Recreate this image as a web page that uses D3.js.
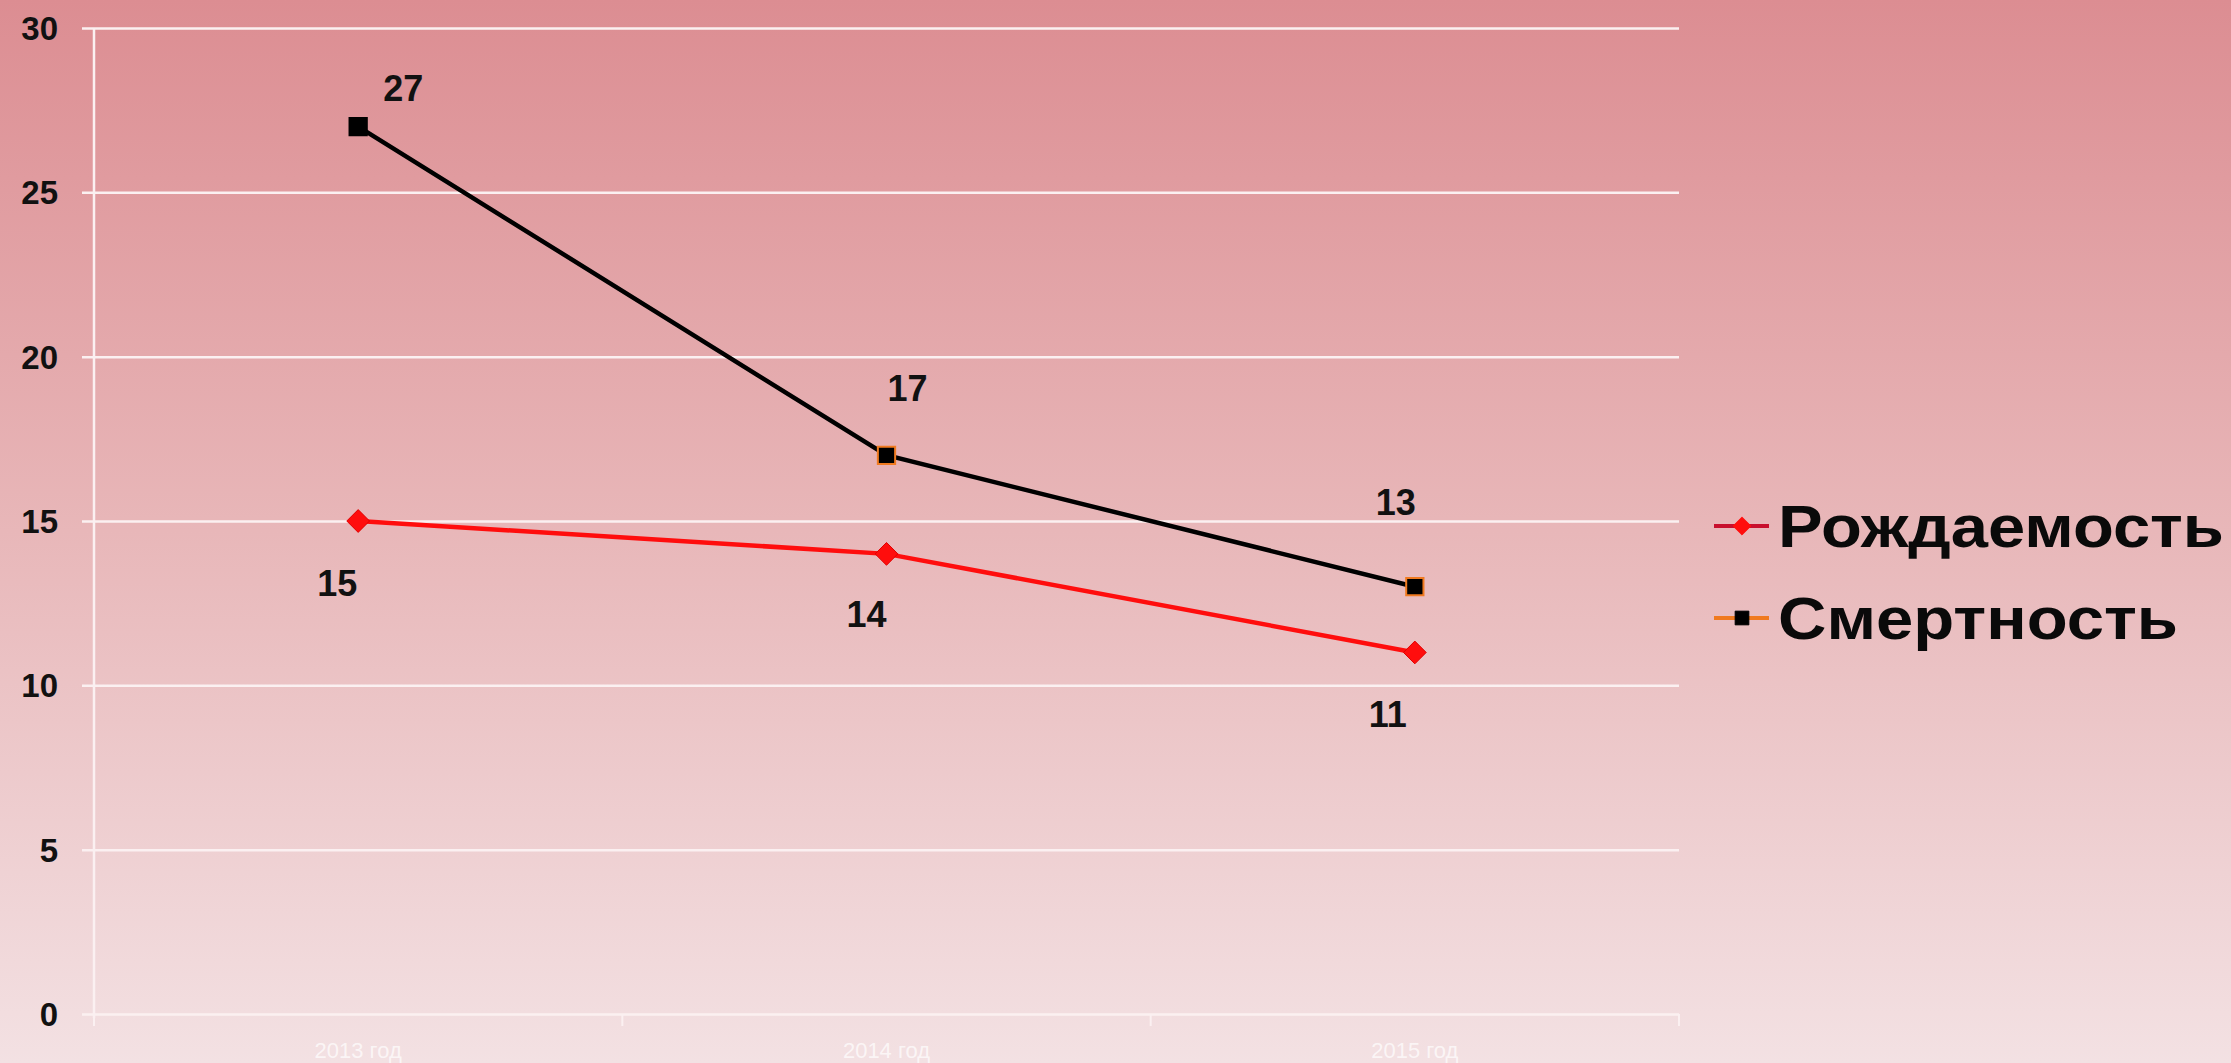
<!DOCTYPE html>
<html>
<head>
<meta charset="utf-8">
<script src="https://cdn.jsdelivr.net/npm/d3@7"></script>
<style>
    html, body { margin: 0; padding: 0; overflow: hidden; }
    body { width: 2231px; height: 1063px; }
</style>
</head>
<body>
<div class="container"></div>
<script>

var width = 2231;
var height = 1063;

var categories = ["2013 год", "2014 год", "2015 год"];
var birthValues = [15, 14, 11];
var deathValues = [27, 17, 13];
var seriesNames = ["Рождаемость", "Смертность"];
var yTicks = [0, 5, 10, 15, 20, 25, 30];

// label nudges in px (dx, dy from marker to text baseline)
var birthLabelOffset = [[-21, 75], [-20, 73], [-27, 75]];
var deathLabelOffset = [[45, -26], [21, -54], [-19, -72]];

var margin = { left: 94, right: 2231 - 1679, top: 28, bottom: 1063 - 1014 };

var svg = d3.select('.container')
    .append('svg')
    .attr('width', width)
    .attr('height', height)

// background gradient
var defs = svg.append('defs');
var grad = defs.append('linearGradient')
    .attr('id', 'bg')
    .attr('x1', 0).attr('y1', 0).attr('x2', 0).attr('y2', 1);
grad.append('stop').attr('offset', '0%').attr('stop-color', '#dc8d92');
grad.append('stop').attr('offset', '50%').attr('stop-color', '#e8b7b9');
grad.append('stop').attr('offset', '100%').attr('stop-color', '#f3e1e3');

svg.append('rect')
    .attr('width', width)
    .attr('height', height)
    .attr('fill', 'url(#bg)')

var x = d3.scaleBand()
    .domain(categories)
    .range([margin.left, width - margin.right])

var y = d3.scaleLinear()
    .domain([0, 30])
    .range([height - margin.bottom, margin.top])

function cx(d, i) { return x(categories[i]) + x.bandwidth() / 2; }

// gridlines
svg.append('g')
    .attr('class', 'grid')
    .attr('transform', 'translate(' + margin.left + ',0)')
    .call(d3.axisLeft(y).tickValues(yTicks).tickSize(-(width - margin.left - margin.right)).tickFormat(''))
    .call(function (g) { g.select('.domain').remove(); })
    .selectAll('line')
    .attr('stroke', '#fbf0f1')
    .attr('stroke-width', 2.5)
    .attr('x1', -12)

// y axis labels
svg.append('g')
    .selectAll('text')
    .data(yTicks)
    .enter().append('text')
    .attr('x', 58)
    .attr('y', function (d) { return y(d) + 12; })
    .attr('text-anchor', 'end')
    .attr('font-family', 'Liberation Sans, Arial, sans-serif')
    .attr('font-weight', 'bold')
    .attr('font-size', '33px')
    .attr('fill', '#111')
    .text(function (d) { return d; })

// vertical axis line
svg.append('line')
    .attr('x1', margin.left).attr('x2', margin.left)
    .attr('y1', y(30)).attr('y2', y(0) + 4)
    .attr('stroke', '#fbf0f1')
    .attr('stroke-width', 2.5)

// x axis ticks
var xEdges = categories.map(function (c) { return x(c); }).concat([x.range()[1]]);
svg.append('g')
    .selectAll('line')
    .data(xEdges)
    .enter().append('line')
    .attr('x1', function (d) { return d; })
    .attr('x2', function (d) { return d; })
    .attr('y1', y(0))
    .attr('y2', y(0) + 12)
    .attr('stroke', '#fbf0f1')
    .attr('stroke-width', 2)

// category labels
svg.append('g')
    .selectAll('text')
    .data(categories)
    .enter().append('text')
    .attr('x', function (d) { return x(d) + x.bandwidth() / 2; })
    .attr('y', 1058)
    .attr('text-anchor', 'middle')
    .attr('font-family', 'Liberation Sans Narrow, Arial Narrow, Liberation Sans, sans-serif')
    .attr('font-size', '22px')
    .attr('fill', 'rgba(255,255,255,0.7)')
    .text(function (d) { return d; })

var line = d3.line()
    .x(cx)
    .y(function (d) { return y(d); })

// death series
svg.append('path')
    .datum(deathValues)
    .attr('d', line)
    .attr('fill', 'none')
    .attr('stroke', '#000')
    .attr('stroke-width', 4.5)

// birth series
svg.append('path')
    .datum(birthValues)
    .attr('d', line)
    .attr('fill', 'none')
    .attr('stroke', '#ff0d0d')
    .attr('stroke-width', 4.5)

var diamond = d3.symbol().type(d3.symbolDiamond2).size(330);
var square = d3.symbol().type(d3.symbolSquare2).size(380);

svg.append('g')
    .selectAll('path')
    .data(birthValues)
    .enter().append('path')
    .attr('d', diamond)
    .attr('transform', function (d, i) { return 'translate(' + cx(d, i) + ',' + y(d) + ')'; })
    .attr('fill', '#ff0d0d')
    .attr('stroke', '#e00000')
    .attr('stroke-width', 1)

svg.append('g')
    .selectAll('path')
    .data(deathValues)
    .enter().append('path')
    .attr('d', square)
    .attr('transform', function (d, i) { return 'translate(' + cx(d, i) + ',' + y(d) + ')'; })
    .attr('fill', '#000')
    .attr('stroke', function (d, i) { return i == 0 ? '#000' : '#f07a20'; })
    .attr('stroke-width', 2)

// data labels
function addLabels(values, offsets) {
    svg.append('g')
        .selectAll('text')
        .data(values)
        .enter().append('text')
        .attr('x', function (d, i) { return cx(d, i) + offsets[i][0]; })
        .attr('y', function (d, i) { return y(d) + offsets[i][1]; })
        .attr('text-anchor', 'middle')
        .attr('font-family', 'Liberation Sans, Arial, sans-serif')
        .attr('font-weight', 'bold')
        .attr('font-size', '36px')
        .attr('fill', '#111')
        .text(function (d) { return d; })
}
addLabels(deathValues, deathLabelOffset);
addLabels(birthValues, birthLabelOffset);

// legend
var legend = svg.append('g').attr('transform', 'translate(1714,0)');
var legendRows = [
    { name: seriesNames[0], y: 526, width: 446, lineColor: '#c8102e', marker: diamond, fill: '#ff0d0d', stroke: '#ff0d0d' },
    { name: seriesNames[1], y: 618, width: 400, lineColor: '#f07a20', marker: square, fill: '#000', stroke: '#000' }
];
legendRows.forEach(function (r) {
    legend.append('line')
        .attr('x1', 0).attr('x2', 55)
        .attr('y1', r.y).attr('y2', r.y)
        .attr('stroke', r.lineColor)
        .attr('stroke-width', 4)
    legend.append('path')
        .attr('d', r.marker)
        .attr('transform', 'translate(28,' + r.y + ') scale(0.8)')
        .attr('fill', r.fill)
        .attr('stroke', r.stroke)
    legend.append('text')
        .attr('x', 64)
        .attr('y', r.y + 21)
        .attr('font-family', 'Liberation Sans, Arial, sans-serif')
        .attr('font-weight', 'bold')
        .attr('font-size', '60px')
        .attr('fill', '#0a0a0a')
        .attr('textLength', r.width)
        .attr('lengthAdjust', 'spacingAndGlyphs')
        .text(r.name)
});

</script>
</body>
</html>
